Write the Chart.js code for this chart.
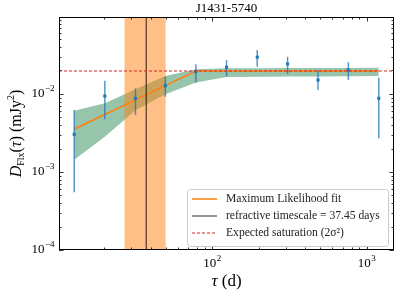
<!DOCTYPE html>
<html>
<head>
<meta charset="utf-8">
<script src="https://cdn.jsdelivr.net/npm/chart.js@4"></script>
<style>
  html, body { margin: 0; padding: 0; background: #fff; }
  #wrap { width: 399px; height: 294px; }
</style>
</head>
<body>
<div id="wrap"><canvas id="sfChart" width="399" height="294"></canvas></div>
<script>
// lags (days) and structure function values
const tau = [12.8, 20.2, 31.9, 49.8, 78.5, 124, 196, 308, 485, 762, 1200];
const dFlx = [0.00304, 0.0094, 0.0088, 0.01277, 0.0193, 0.022, 0.0296, 0.0243, 0.0151, 0.0203, 0.0088];
const errLo = [0.00055, 0.00473, 0.0054, 0.00923, 0.014, 0.0167, 0.0224, 0.018, 0.01125, 0.0151, 0.0027];
const errHi = [0.00624, 0.0148, 0.0118, 0.01667, 0.024, 0.0273, 0.0366, 0.030, 0.0199, 0.0255, 0.0162];

// maximum likelihood fit and its uncertainty band
const fitLine = [0.00356, 0.00545, 0.0084, 0.0128, 0.0197, 0.0197, 0.0197, 0.0197, 0.0197, 0.0197, 0.0197];
const bandHi = [0.00611, 0.0076, 0.0115, 0.0170, 0.0207, 0.0213, 0.0214, 0.0215, 0.0216, 0.0216, 0.0217];
const bandLo = [0.00143, 0.00284, 0.0062, 0.0099, 0.0140, 0.0165, 0.0166, 0.0167, 0.0168, 0.0169, 0.0170];

// refractive timescale and its range, expected saturation level
const tauRef = 37.45;
const tauRange = [27.1, 50.0];
const saturation = 0.0197;

const xTicks = [100, 1000];
const yTicks = [1e-4, 1e-3, 1e-2];
const legendLabels = ['Maximum Likelihood fit', 'refractive timescale = 37.45 days', 'Expected saturation (2\u03c3\u00b2)'];
const title = 'J1431-5740';

const xMin = 10.2, xMax = 1506, yMin = 1e-4, yMax = 0.097;
const SERIF = '"Liberation Serif", "DejaVu Serif", serif';

const pts = (ys) => tau.map((t, i) => ({ x: t, y: ys[i] }));

// draws 10^n with a raised exponent
function drawPow(ctx, exp, x, y, align) {
    ctx.save();
    ctx.fillStyle = '#000';
    ctx.textBaseline = 'middle';
    ctx.font = '13px ' + SERIF;
    const wb = ctx.measureText('10').width;
    ctx.font = '9px ' + SERIF;
    const we = ctx.measureText(exp).width;
    let x0 = x;
    if (align === 'center') x0 = x - (wb + we) / 2;
    if (align === 'right') x0 = x - (wb + we);
    ctx.textAlign = 'left';
    ctx.font = '13px ' + SERIF;
    ctx.fillText('10', x0, y);
    ctx.font = '9px ' + SERIF;
    ctx.fillText(exp, x0 + wb + 0.5, y - 5);
    ctx.restore();
}

function drawRuns(ctx, runs, cx, cy) {
    // runs: [text, font, dy]
    let total = 0;
    runs.forEach(r => { ctx.font = r[1]; total += ctx.measureText(r[0]).width; });
    let x = cx - total / 2;
    ctx.textBaseline = 'middle';
    ctx.textAlign = 'left';
    runs.forEach(r => {
        ctx.font = r[1];
        ctx.fillText(r[0], x, cy + r[2]);
        x += ctx.measureText(r[0]).width;
    });
}

const decor = {
    id: 'decor',
    afterDatasetDraw(chart, args) {
        if (args.index !== 0) return;
        // orange shaded range over the band
        const ctx = chart.ctx, a = chart.chartArea, xs = chart.scales.x;
        const x0 = xs.getPixelForValue(tauRange[0]), x1 = xs.getPixelForValue(tauRange[1]);
        ctx.save();
        ctx.fillStyle = 'rgba(255,127,14,0.5)';
        ctx.fillRect(x0, a.top, x1 - x0, a.bottom - a.top);
        ctx.restore();
    },
    beforeDatasetDraw(chart, args) {
        if (args.index !== 3) return;
        // error bars for the data points
        const ctx = chart.ctx, xs = chart.scales.x, ys = chart.scales.y;
        ctx.save();
        ctx.strokeStyle = 'rgba(31,119,180,0.75)';
        ctx.lineWidth = 1.5;
        tau.forEach((t, i) => {
            const px = xs.getPixelForValue(t);
            ctx.beginPath();
            ctx.moveTo(px, ys.getPixelForValue(errLo[i]));
            ctx.lineTo(px, ys.getPixelForValue(errHi[i]));
            ctx.stroke();
        });
        ctx.restore();
    },
    afterDraw(chart) {
        const ctx = chart.ctx, a = chart.chartArea, xs = chart.scales.x, ys = chart.scales.y;
        ctx.save();
        // frame
        ctx.strokeStyle = '#000';
        ctx.lineWidth = 1;
        ctx.strokeRect(Math.round(a.left) + 0.5, Math.round(a.top) + 0.5,
            Math.round(a.right - a.left) - 1, Math.round(a.bottom - a.top) - 1);

        // inward ticks, all sides
        ctx.lineWidth = 0.8;
        for (let d = 1; d <= 3; d++) {
            for (let k = 1; k <= 9; k++) {
                const v = k * Math.pow(10, d);
                if (v < xMin || v > xMax) continue;
                const px = Math.round(xs.getPixelForValue(v)) + 0.5;
                const len = k === 1 ? 4.5 : 2.5;
                ctx.beginPath();
                ctx.moveTo(px, a.bottom); ctx.lineTo(px, a.bottom - len);
                ctx.moveTo(px, a.top); ctx.lineTo(px, a.top + len);
                ctx.stroke();
            }
        }
        for (let d = -4; d <= -2; d++) {
            for (let k = 1; k <= 9; k++) {
                const v = k * Math.pow(10, d);
                if (v < yMin || v > yMax) continue;
                const py = Math.round(ys.getPixelForValue(v)) + 0.5;
                const len = k === 1 ? 4.5 : 2.5;
                ctx.beginPath();
                ctx.moveTo(a.left, py); ctx.lineTo(a.left + len, py);
                ctx.moveTo(a.right, py); ctx.lineTo(a.right - len, py);
                ctx.stroke();
            }
        }

        // tick labels
        xTicks.forEach(v => drawPow(ctx, String(Math.round(Math.log10(v))), xs.getPixelForValue(v), a.bottom + 14, 'center'));
        yTicks.forEach(v => drawPow(ctx, '\u2212' + String(-Math.round(Math.log10(v))), a.left - 5, ys.getPixelForValue(v), 'right'));

        // title
        ctx.fillStyle = '#000';
        ctx.font = '13px ' + SERIF;
        ctx.textAlign = 'center';
        ctx.textBaseline = 'middle';
        ctx.fillText(title, (a.left + a.right) / 2, 9);

        // x axis title
        drawRuns(ctx, [['\u03c4', 'italic 17px ' + SERIF, 0], [' (d)', '17px ' + SERIF, 0]],
            (a.left + a.right) / 2, 282);

        // y axis title
        ctx.save();
        ctx.translate(17, (a.top + a.bottom) / 2);
        ctx.rotate(-Math.PI / 2);
        drawRuns(ctx, [
            ['D', 'italic 16px ' + SERIF, 0],
            ['Flx', '10px ' + SERIF, 4],
            ['(', '16px ' + SERIF, 0],
            ['\u03c4', 'italic 16px ' + SERIF, 0],
            [') (mJy', '16px ' + SERIF, 0],
            ['2', '10px ' + SERIF, -6],
            [')', '16px ' + SERIF, 0]
        ], 0, 0);
        ctx.restore();

        // legend
        const lx = 187, ly = 189, lw = 201, lh = 57;
        ctx.fillStyle = 'rgba(255,255,255,0.8)';
        ctx.strokeStyle = '#cccccc';
        ctx.lineWidth = 1;
        ctx.beginPath();
        ctx.roundRect(lx + 0.5, ly + 0.5, lw, lh, 3);
        ctx.fill();
        ctx.stroke();
        const handles = [
            { c: '#ff7f0e', w: 1.5, dash: [] },
            { c: 'rgba(0,0,0,0.7)', w: 1.2, dash: [] },
            { c: '#d62728', w: 1.2, dash: [3, 2] }
        ];
        legendLabels.forEach((lab, i) => {
            const yy = ly + 10 + i * 17;
            ctx.strokeStyle = handles[i].c;
            ctx.lineWidth = handles[i].w;
            ctx.setLineDash(handles[i].dash);
            ctx.beginPath();
            ctx.moveTo(lx + 5, yy);
            ctx.lineTo(lx + 30, yy);
            ctx.stroke();
            ctx.setLineDash([]);
            ctx.fillStyle = '#222';
            ctx.font = '11.6px ' + SERIF;
            ctx.textAlign = 'left';
            ctx.textBaseline = 'middle';
            ctx.fillText(lab, lx + 39, yy);
        });
        ctx.restore();
    }
};

const ctx = document.getElementById('sfChart').getContext('2d');

new Chart(ctx, {
    type: 'scatter',
    data: {
        datasets: [
            {
                label: 'bandHi', data: pts(bandHi), showLine: true, borderWidth: 0,
                pointRadius: 0, fill: '+1', backgroundColor: 'rgba(46,139,87,0.5)', order: 9
            },
            {
                label: 'bandLo', data: pts(bandLo), showLine: true, borderWidth: 0,
                pointRadius: 0, fill: false, order: 10
            },
            {
                label: 'fit', data: pts(fitLine), showLine: true, borderColor: '#ff7f0e',
                borderWidth: 1.5, pointRadius: 0, fill: false, order: 5
            },
            {
                label: 'data', data: pts(dFlx), pointRadius: 2.2, pointStyle: 'rect',
                backgroundColor: '#1f77b4', borderWidth: 0, order: 4
            },
            {
                label: 'tauRef', data: [{ x: tauRef, y: yMin }, { x: tauRef, y: yMax }], showLine: true,
                borderColor: 'rgba(0,0,0,0.7)', borderWidth: 1.2, pointRadius: 0, order: 2
            },
            {
                label: 'saturation', data: [{ x: xMin, y: saturation }, { x: xMax, y: saturation }], showLine: true,
                borderColor: '#d62728', borderWidth: 1, borderDash: [3, 2], pointRadius: 0, order: 1
            }
        ]
    },
    options: {
        responsive: false,
        animation: false,
        layout: { padding: { top: 17, right: 5, left: 0, bottom: 0 } },
        plugins: {
            legend: { display: false },
            tooltip: { enabled: false },
            title: { display: false }
        },
        scales: {
            x: {
                type: 'logarithmic', min: xMin, max: xMax,
                grid: { display: false }, border: { display: false },
                ticks: { display: false },
                afterFit(scale) { scale.height = 44; }
            },
            y: {
                type: 'logarithmic', min: yMin, max: yMax,
                grid: { display: false }, border: { display: false },
                ticks: { display: false },
                afterFit(scale) { scale.width = 59; }
            }
        }
    },
    plugins: [decor]
});
</script>
</body>
</html>
